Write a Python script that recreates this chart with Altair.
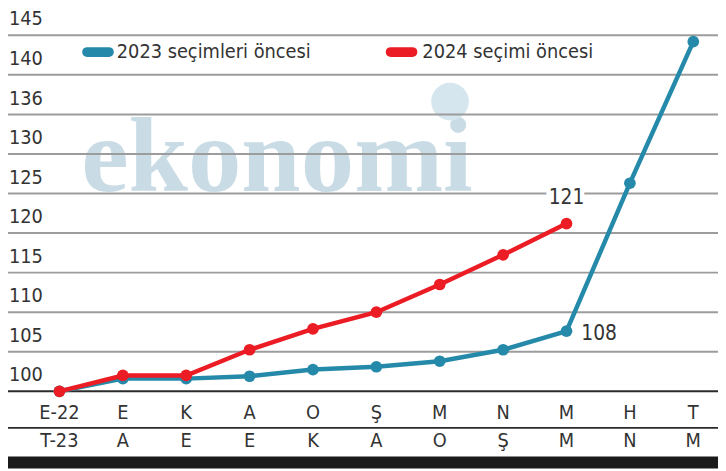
import altair as alt
import pandas as pd

# ---- data ----
months_top = ["E-22", "E", "K", "A", "O", "Ş", "M", "N", "M", "H", "T"]
months_bottom = ["T-23", "A", "E", "E", "K", "A", "O", "Ş", "M", "N", "M"]
series_2023 = [100, 101.6, 101.6, 101.9, 102.75, 103.1, 103.8, 105.25, 107.6, 126.3, 144.2]
series_2024 = [100, 102.0, 102.0, 105.25, 107.9, 110.0, 113.5, 117.25, 121.2]
y_ticks = [100, 105, 110, 115, 120, 125, 130, 135, 140, 145]
y_tick_labels = ["100", "105", "110", "115", "120", "125", "130", "136", "140", "145"]
legend_labels = ["2023 seçimleri öncesi", "2024 seçimi öncesi"]
colors = ["#2589a9", "#ec1c24"]
watermark = ["ekonomi"]

FONT = "Liberation Sans Narrow, DejaVu Sans Condensed, Roboto Condensed, Roboto, sans-serif"
W, H = 718, 463
TXT = "#333333"
FS = 20

xscale = alt.Scale(domain=[-0.8112, 10.39], nice=False, zero=False)
yscale = alt.Scale(domain=[90.25, 148.125], nice=False, zero=False)

rows = []
for name, vals in zip(legend_labels, [series_2023, series_2024]):
    for i, v in enumerate(vals):
        rows.append({"i": i, "v": v, "series": name})
df = pd.DataFrame(rows)

color_scale = alt.Scale(domain=legend_labels, range=colors)

df_ticks = pd.DataFrame({"v": y_ticks, "label": y_tick_labels})
df_months = pd.DataFrame({"i": list(range(len(months_top))), "top": months_top, "bottom": months_bottom})

wm = alt.Chart(pd.DataFrame({"t": watermark})).mark_text(
    font="Liberation Serif, DejaVu Serif, serif", fontWeight="bold", fontSize=108,
    color="#c9dce6", align="center", baseline="alphabetic"
).encode(x=alt.value(272), y=alt.value(182), text="t:N")

globe = alt.Chart(pd.DataFrame({"t": watermark})).mark_circle(
    color="#d6e6ee", opacity=1, size=1450
).encode(x=alt.value(447), y=alt.value(92))

grid = alt.Chart(df_ticks[df_ticks.v > y_ticks[0]]).mark_rule(
    color="#9c9c9c", strokeWidth=2
).encode(y=alt.Y("v:Q", scale=yscale, axis=None), x=alt.value(0), x2=alt.value(W))

base = alt.Chart(df_ticks[df_ticks.v == y_ticks[0]]).mark_rule(
    color="#2b2b2b", strokeWidth=2
).encode(y=alt.Y("v:Q", scale=yscale, axis=None), x=alt.value(0), x2=alt.value(W))

ylabels = alt.Chart(df_ticks).mark_text(
    font=FONT, fontSize=FS, color=TXT, align="left", baseline="middle", dy=-16
).encode(y=alt.Y("v:Q", scale=yscale, axis=None), x=alt.value(1), text="label:N")

sep = alt.Chart(df_months.head(1)).mark_rule(color="#2b2b2b", strokeWidth=2).encode(
    y=alt.value(422), x=alt.value(0), x2=alt.value(W))

bar = alt.Chart(df_months.head(1)).mark_rect(color="#1a1a1a").encode(
    x=alt.value(0), x2=alt.value(W), y=alt.value(451), y2=alt.value(H))

xtop = alt.Chart(df_months).mark_text(
    font=FONT, fontSize=FS, color=TXT, align="center", baseline="middle"
).encode(x=alt.X("i:Q", scale=xscale, axis=None), y=alt.value(407), text="top:N")

xbot = alt.Chart(df_months).mark_text(
    font=FONT, fontSize=FS, color=TXT, align="center", baseline="middle"
).encode(x=alt.X("i:Q", scale=xscale, axis=None), y=alt.value(435), text="bottom:N")

layers_series = []
for name in legend_labels:
    d = df[df.series == name]
    ln = alt.Chart(d).mark_line(strokeWidth=4.5).encode(
        x=alt.X("i:Q", scale=xscale, axis=None),
        y=alt.Y("v:Q", scale=yscale, axis=None),
        color=alt.Color("series:N", scale=color_scale, legend=None),
    )
    pt = alt.Chart(d).mark_circle(size=140, opacity=1).encode(
        x=alt.X("i:Q", scale=xscale, axis=None),
        y=alt.Y("v:Q", scale=yscale, axis=None),
        color=alt.Color("series:N", scale=color_scale, legend=None),
    )
    layers_series += [ln, pt]

d23 = df[(df.series == legend_labels[0]) & (df.i == 8)]
d24 = df[(df.series == legend_labels[1]) & (df.i == 8)]

ann23 = alt.Chart(d23).mark_text(
    font=FONT, fontSize=21, color=TXT, align="left", baseline="middle", dx=15, dy=3
).encode(x=alt.X("i:Q", scale=xscale, axis=None), y=alt.Y("v:Q", scale=yscale, axis=None),
         text=alt.Text("v:Q", format=".0f"))

ann24_halo = alt.Chart(d24).mark_text(
    font=FONT, fontSize=21, color="white", stroke="white", strokeWidth=9,
    align="center", baseline="middle", dy=-26
).encode(x=alt.X("i:Q", scale=xscale, axis=None), y=alt.Y("v:Q", scale=yscale, axis=None),
         text=alt.Text("v:Q", format=".0f"))

ann24 = alt.Chart(d24).mark_text(
    font=FONT, fontSize=21, color=TXT, align="center", baseline="middle", dy=-26
).encode(x=alt.X("i:Q", scale=xscale, axis=None), y=alt.Y("v:Q", scale=yscale, axis=None),
         text=alt.Text("v:Q", format=".0f"))

leg_df = pd.DataFrame({"series": legend_labels})
leg_sw1 = alt.Chart(leg_df.head(1)).mark_rule(strokeWidth=10, strokeCap="round", color=colors[0]).encode(
    x=alt.value(80), x2=alt.value(102), y=alt.value(42))
leg_sw2 = alt.Chart(leg_df.tail(1)).mark_rule(strokeWidth=10, strokeCap="round", color=colors[1]).encode(
    x=alt.value(387), x2=alt.value(409), y=alt.value(42))
leg_t1 = alt.Chart(leg_df.head(1)).mark_text(
    font=FONT, fontSize=FS, color=TXT, align="left", baseline="middle").encode(
    x=alt.value(110), y=alt.value(42), text="series:N")
leg_t2 = alt.Chart(leg_df.tail(1)).mark_text(
    font=FONT, fontSize=FS, color=TXT, align="left", baseline="middle").encode(
    x=alt.value(419), y=alt.value(42), text="series:N")

chart = alt.layer(
    wm, globe, grid, base, ylabels, sep, bar, xtop, xbot,
    *layers_series, ann23, ann24_halo, ann24,
    leg_sw1, leg_sw2, leg_t1, leg_t2
).properties(
    width=W, height=H,
    autosize=alt.AutoSizeParams(type="none"),
    padding=0,
).configure_view(stroke=None)

chart.save("out.html", embed_options={"renderer": "svg", "actions": False})
